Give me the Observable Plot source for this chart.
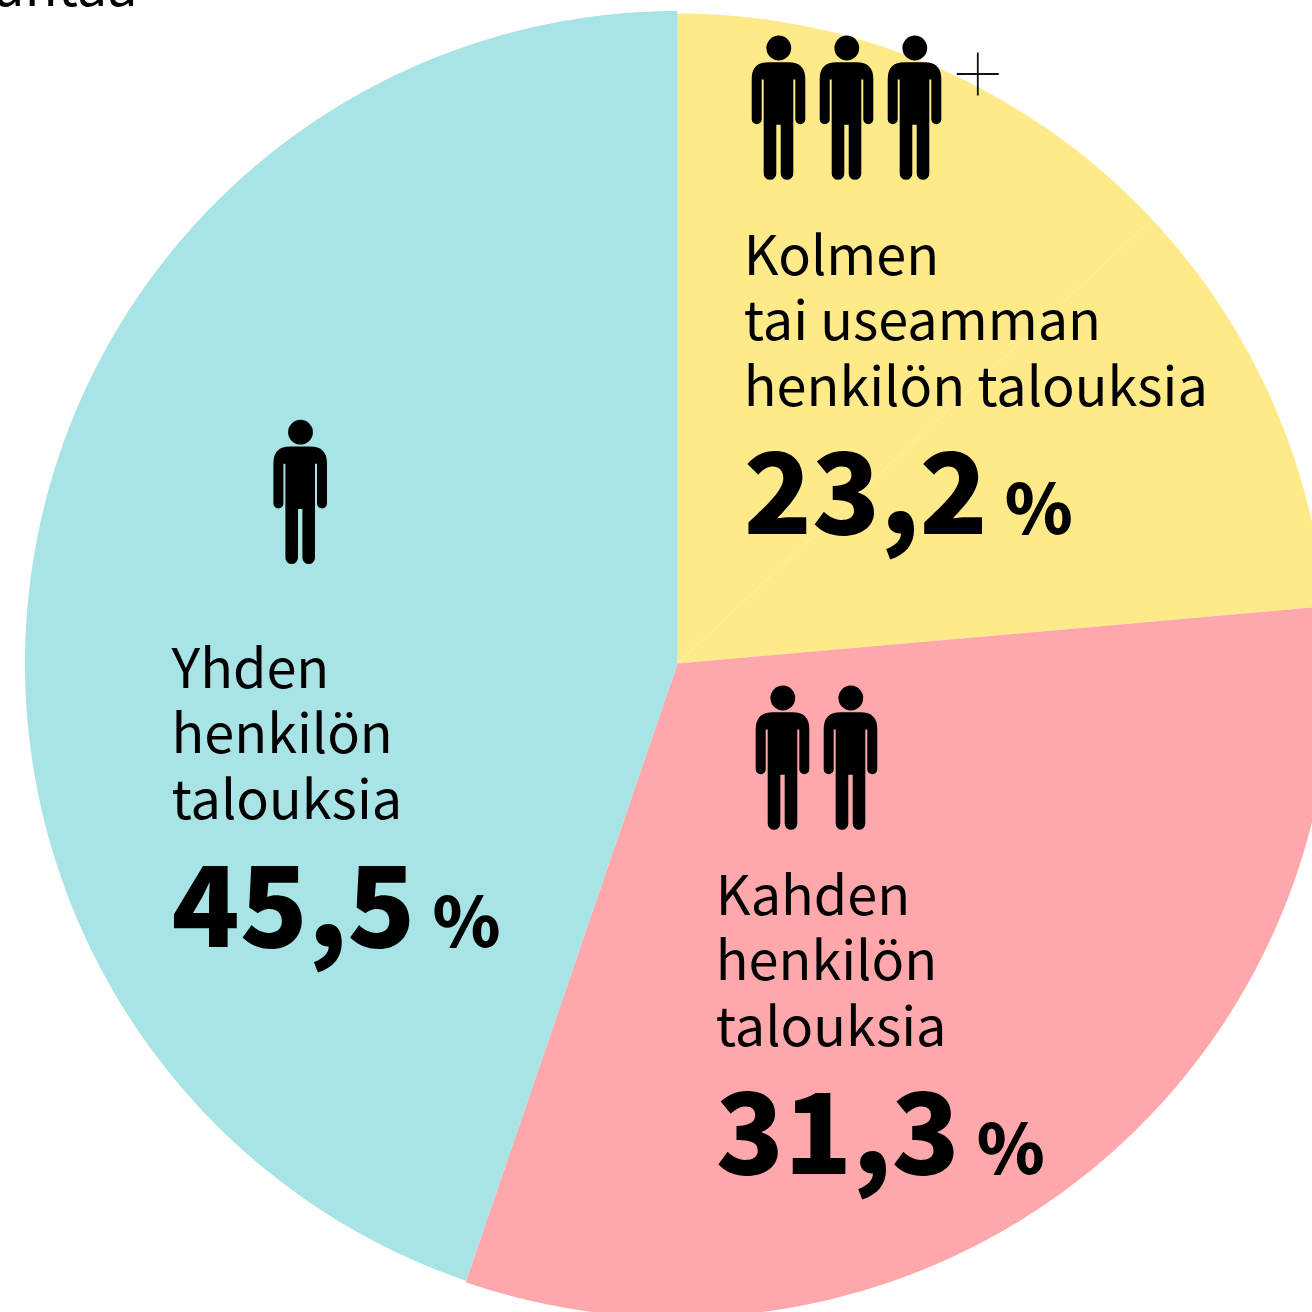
<!doctype html>
<html><head><meta charset="utf-8">
<style>html,body{margin:0;padding:0;background:#fff;overflow:hidden}svg{display:block}</style>
<script src="https://cdn.jsdelivr.net/npm/d3@7"></script>
<script src="https://cdn.jsdelivr.net/npm/@observablehq/plot@0.6"></script>
</head><body><div id="c"></div>
<script>
const categories = ["Kolmen tai useamman", "Kahden", "Yhden"];
const labelled = ["23,2", "31,3", "45,5"];
const drawnShare = [23.6, 31.65, 44.75];
const sliceRadius = [650, 654, 652.5];
const sliceColors = ["#FFEA8A", "#FFA8AB", "#A8E4E6"];
const labelLines = [
  ["Kolmen", "tai useamman", "henkilön talouksia"],
  ["Kahden", "henkilön", "talouksia"],
  ["Yhden", "henkilön", "talouksia"]
];
const peopleCount = [3, 2, 1];

// Layout, in chart pixels measured from the pie's centre
const size = 1312, cx = 677, cy = 663;
const textLeft = [743.3, 715.3, 171];
const firstBaseline = [274, 914, 687];
const lineGap = 65.5;
const numberBaseline = [533, 1173, 946];
const percentOffset = [261, 261, 261];
const peopleLeft = [778, 782, 299.7];
const peopleMid = [108, 758, 492.2];
const peopleGap = 68;

const FONT = "'Noto Sans CJK JP','Noto Sans',sans-serif";

// slices
let start = 0;
const pie = [];
categories.forEach((name, i) => {
  const a0 = start * 3.6, a1 = (start + drawnShare[i]) * 3.6;
  start += drawnShare[i];
  const r = sliceRadius[i];
  pie.push({name, x: 0, y: 0});
  for (const a of d3.range(a0, a1, 0.25).concat(a1)) {
    const t = a * Math.PI / 180;
    pie.push({name, x: r * Math.sin(t), y: -r * Math.cos(t)});
  }
});

// person icon as a Plot dot symbol
const person = {
  draw(c) {
    c.moveTo(12.4 + 0.3, -60.5);
    c.arc(0.3, -60.5, 12.4, 0, 2 * Math.PI);
    c.closePath();
    c.moveTo(-10, -46.3);
    c.quadraticCurveTo(-26.8, -46.3, -26.8, -29.5);
    c.lineTo(-26.8, 10.7);
    c.arc(-21.8, 10.7, 5, Math.PI, 0, true);
    c.lineTo(-16.8, -29);
    c.lineTo(-14.8, -29);
    c.lineTo(-14.8, 65);
    c.arc(-8.5, 65, 6.3, Math.PI, 0, true);
    c.lineTo(-2.2, 16.3);
    c.lineTo(2.2, 16.3);
    c.lineTo(2.2, 65);
    c.arc(8.5, 65, 6.3, Math.PI, 0, true);
    c.lineTo(14.8, -29);
    c.lineTo(16.8, -29);
    c.lineTo(16.8, 10.7);
    c.arc(21.8, 10.7, 5, Math.PI, 0, true);
    c.lineTo(26.8, -29.5);
    c.quadraticCurveTo(26.8, -46.3, 10, -46.3);
    c.closePath();
  }
};
const plusSign = {
  draw(c) {
    c.moveTo(-21, 0); c.lineTo(21, 0);
    c.moveTo(0, -21.5); c.lineTo(0, 21.5);
  }
};

const people = categories.flatMap((name, i) =>
  d3.range(peopleCount[i]).map(k => ({x: peopleLeft[i] + k * peopleGap - cx, y: peopleMid[i] - cy})));
const lines = labelLines.flatMap((ls, i) =>
  ls.map((t, k) => ({t, x: textLeft[i] - cx, y: firstBaseline[i] + k * lineGap - cy})));
const numbers = labelled.map((t, i) => ({t, x: textLeft[i] - cx, y: numberBaseline[i] - cy}));
const percents = labelled.map((t, i) => ({t: "%", x: textLeft[i] + percentOffset[i] - cx, y: numberBaseline[i] - cy}));

const chart = Plot.plot({
  width: size, height: size, margin: 0,
  style: {background: "#fff", overflow: "hidden"},
  x: {domain: [-cx, size - cx], range: [0, size], axis: null},
  y: {domain: [-cy, size - cy], range: [0, size], axis: null},
  color: {domain: categories, range: sliceColors},
  marks: [
    Plot.line(pie, {x: "x", y: "y", z: "name", fill: "name", stroke: "none", curve: "linear-closed"}),
    Plot.line([{x:0,y:0},{x:473,y:-443}], {x:"x", y:"y", stroke:"#fff", strokeOpacity:0.4, strokeWidth:0.8}),
    Plot.dot(people, {x: "x", y: "y", symbol: person, fill: "#000", stroke: "none"}),
    Plot.dot([{x: 977.3 - cx, y: 73.5 - cy}], {x: "x", y: "y", symbol: plusSign, stroke: "#111", strokeWidth: 1.8, fill: "none"}),
    Plot.text(lines, {x: "x", y: "y", text: "t", textAnchor: "start", lineAnchor: "bottom", fontFamily: FONT, fontSize: 54, fontWeight: 400, fill: "#000"}),
    Plot.text(numbers, {x: "x", y: "y", text: "t", textAnchor: "start", lineAnchor: "bottom", fontFamily: FONT, fontSize: 112, fontWeight: 900, fill: "#000"}),
    Plot.text(percents, {x: "x", y: "y", text: "t", textAnchor: "start", lineAnchor: "bottom", fontFamily: FONT, fontSize: 69, fontWeight: 900, fill: "#000"}),
    Plot.text([{t: "untaa", x: 137 - cx, y: 5 - cy}], {x: "x", y: "y", text: "t", textAnchor: "end", lineAnchor: "bottom", fontFamily: FONT, fontSize: 54, fill: "#000"})
  ]
});
document.getElementById("c").appendChild(chart);
</script></body></html>
